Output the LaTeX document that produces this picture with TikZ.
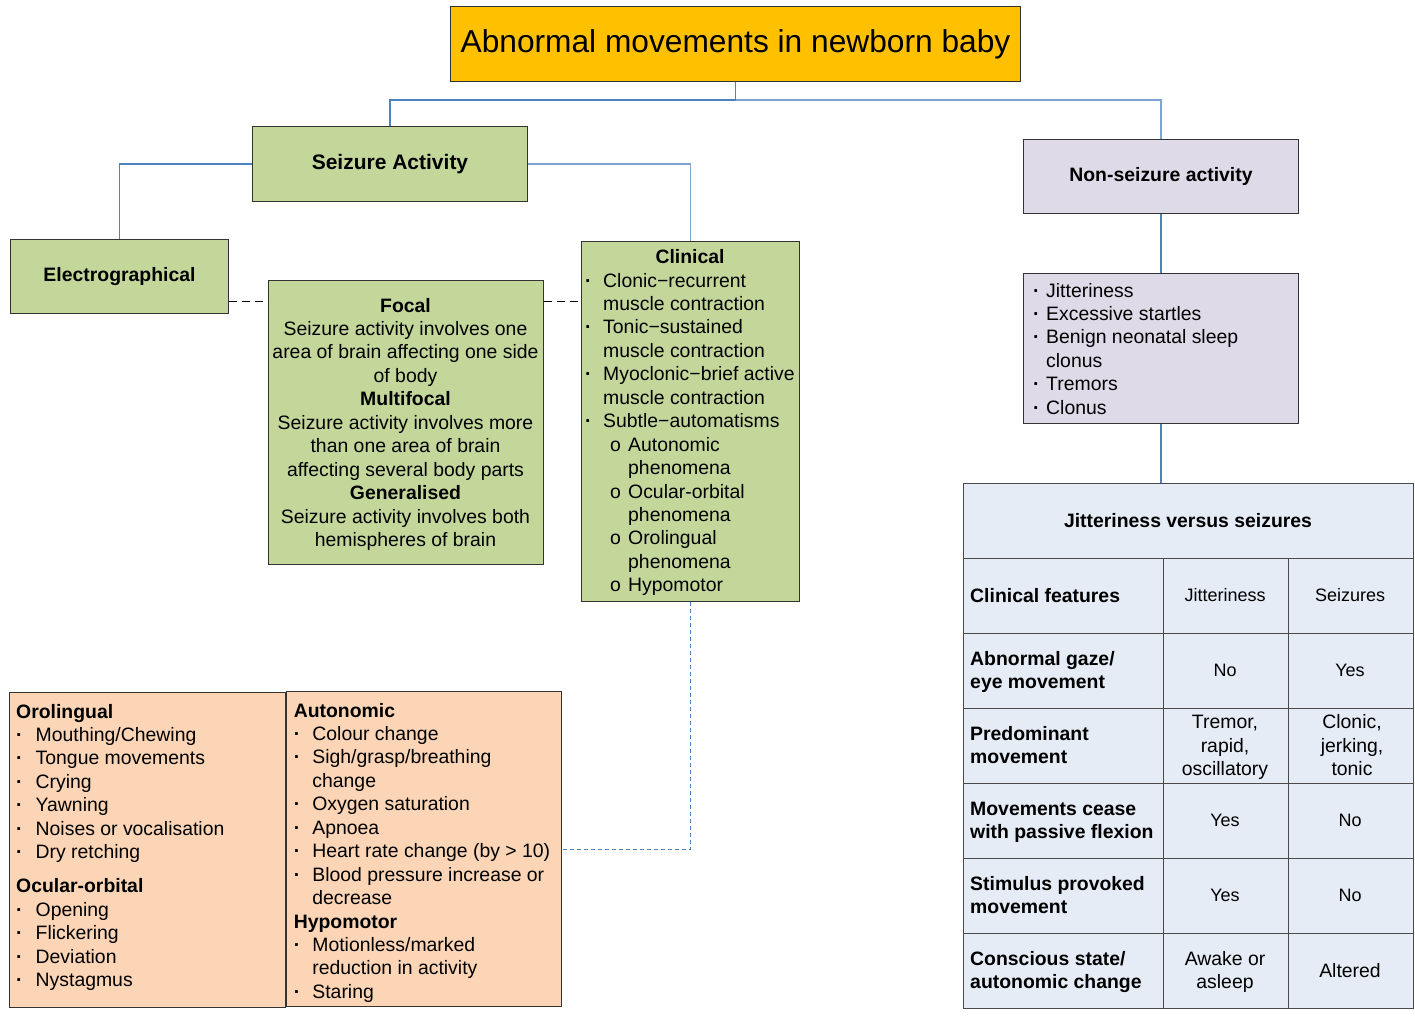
\documentclass[tikz,border=0pt]{standalone}
\usepackage{fontspec}
\setmainfont{Liberation Sans}
\definecolor{titlefill}{HTML}{FFC000}
\definecolor{greenfill}{HTML}{C4D79B}
\definecolor{lavfill}{HTML}{DFDAE7}
\definecolor{peachfill}{HTML}{FBD5B5}
\definecolor{tabfill}{HTML}{E5ECF6}
\definecolor{boxline}{HTML}{333333}
\definecolor{gridline}{HTML}{4A4A4A}
\definecolor{connblue}{HTML}{4F81BD}
\definecolor{connlight}{HTML}{7FA3D3}
\newcommand\fs{\fontsize{19.4}{23.45}\selectfont}
\newcommand\dotb{\textbf{·}}
\newcommand\bulA{\makebox[18pt][l]{\dotb}}
\newcommand\indA{\hspace*{18pt}}
\newcommand\subA{\hspace*{25pt}\makebox[18pt][l]{o}}
\newcommand\subindA{\hspace*{43pt}}
\newcommand\bulB{\makebox[13pt][l]{\dotb}}
\newcommand\indB{\hspace*{13pt}}
\newcommand\bulC{\makebox[19.5pt][l]{\dotb}}
\newcommand\bulD{\makebox[18.6pt][l]{\dotb}}
\newcommand\indD{\hspace*{18.6pt}}
\begin{document}
\begin{tikzpicture}[x=1pt,y=-1pt,
  box/.style={draw=boxline, line width=1pt, inner sep=0pt, anchor=north west},
  txt/.style={inner sep=0pt, font=\fs, align=left},
  celltxt/.style={inner sep=0pt, font=\fs, align=center, yshift=-2.5pt},
  celltxtl/.style={inner sep=0pt, font=\fs\bfseries, align=left, anchor=west, yshift=-2.5pt},
  cellsmall/.style={inner sep=0pt, font=\fontsize{18}{22}\selectfont, yshift=-2.5pt},
  conn/.style={draw=connblue, line width=1.4pt},
  connl/.style={draw=connlight, line width=1.1pt},
  blackdash/.style={draw=black, line width=1.2pt, dash pattern=on 8pt off 5pt},
  bluedash/.style={draw=connblue, line width=0.9pt, dash pattern=on 4pt off 3pt}]
\useasboundingbox (0,0) rectangle (1415,1016);

% boxes
\node[box, fill=titlefill, minimum width=570, minimum height=75, font=\fontsize{31.7}{38}\selectfont] (title) at (450,6) {Abnormal movements in newborn baby};
\node[box, fill=greenfill, minimum width=275, minimum height=75, font=\fontsize{21}{25}\selectfont\bfseries] (seiz) at (252,126) {Seizure Activity};
\node[box, fill=lavfill, minimum width=275, minimum height=74, font=\fs\bfseries] (nons) at (1023,139) {Non-seizure activity};
\node[box, fill=greenfill, minimum width=218, minimum height=74, font=\fs\bfseries] (elec) at (10,239) {Electrographical};
\node[box, fill=greenfill, minimum width=275, minimum height=284] (focal) at (268,280) {};
\node[box, fill=greenfill, minimum width=218, minimum height=360] (clin) at (581,241) {};
\node[box, fill=lavfill, minimum width=275, minimum height=150] (nslist) at (1023,273) {};
\node[box, fill=peachfill, minimum width=276, minimum height=315] (oro) at (9,692) {};
\node[box, fill=peachfill, minimum width=275, minimum height=315] (auto) at (286,691) {};
\node[box, draw=gridline, fill=tabfill, minimum width=450, minimum height=525] (tab) at (963,483) {};

% connectors
\draw[conn] (title.south) -- ++(0,18) -| (seiz.north);
\draw[connl] (title.south) ++(0,18) -| (nons.north);
\draw[conn] (seiz.west) -| (elec.north);
\draw[connl] (seiz.east) -| (clin.north);
\draw[conn] (nons.south) -- (nslist.north);
\draw[conn] (nslist.south) -- (nslist.south |- tab.north);
\coordinate (dashy) at ([yshift=-25pt]elec.east);
\draw[blackdash] (dashy) -- (dashy -| focal.west);
\draw[blackdash] (dashy -| focal.east) -- (dashy -| clin.west);
\draw[bluedash] (clin.south) |- (auto.east);

% focal text
\node[txt, align=center, anchor=north] (focaltxt) at (405.5,295.4) {%
\strut\textbf{Focal}\\
\strut Seizure activity involves one\\
\strut area of brain affecting one side\\
\strut of body\\
\strut\textbf{Multifocal}\\
\strut Seizure activity involves more\\
\strut than one area of brain\\
\strut affecting several body parts\\
\strut\textbf{Generalised}\\
\strut Seizure activity involves both\\
\strut hemispheres of brain};

% clinical text
\node[txt, align=center, anchor=north] (clintitle) at (690,246.4) {\strut\textbf{Clinical}};
\node[txt, anchor=north west] (clintxt) at (585,270.4) {%
\strut\bulA Clonic−recurrent\\
\strut\indA muscle contraction\\
\strut\bulA Tonic−sustained\\
\strut\indA muscle contraction\\
\strut\bulA Myoclonic−brief active\\
\strut\indA muscle contraction\\
\strut\bulA Subtle−automatisms\\
\strut\subA Autonomic\\
\strut\subindA phenomena\\
\strut\subA Ocular-orbital\\
\strut\subindA phenomena\\
\strut\subA Orolingual\\
\strut\subindA phenomena\\
\strut\subA Hypomotor};

% non-seizure list
\node[txt, anchor=north west] (nstxt) at (1033,280.4) {%
\strut\bulB Jitteriness\\
\strut\bulB Excessive startles\\
\strut\bulB Benign neonatal sleep\\
\strut\indB clonus\\
\strut\bulB Tremors\\
\strut\bulB Clonus};

% orolingual
\node[txt, anchor=north west] (orotxt) at (16,701.4) {%
\strut\textbf{Orolingual}\\
\strut\bulC Mouthing/Chewing\\
\strut\bulC Tongue movements\\
\strut\bulC Crying\\
\strut\bulC Yawning\\
\strut\bulC Noises or vocalisation\\
\strut\bulC Dry retching\\[10.5pt]
\strut\textbf{Ocular-orbital}\\
\strut\bulC Opening\\
\strut\bulC Flickering\\
\strut\bulC Deviation\\
\strut\bulC Nystagmus};

% autonomic
\node[txt, anchor=north west] (autotxt) at (293.6,700.4) {%
\strut\textbf{Autonomic}\\
\strut\bulD Colour change\\
\strut\bulD Sigh/grasp/breathing\\
\strut\indD change\\
\strut\bulD Oxygen saturation\\
\strut\bulD Apnoea\\
\strut\bulD Heart rate change (by > 10)\\
\strut\bulD Blood pressure increase or\\
\strut\indD decrease\\
\strut\textbf{Hypomotor}\\
\strut\bulD Motionless/marked\\
\strut\indD reduction in activity\\
\strut\bulD Staring};

% table grid
\foreach \yy in {558,633,708,783,858,933}
  \draw[gridline, line width=1pt] (963,\yy) -- (1413,\yy);
\draw[gridline, line width=1pt] (1163,558) -- (1163,1008);
\draw[gridline, line width=1pt] (1288,558) -- (1288,1008);

% table text
\node[celltxt, font=\fs\bfseries] (thead) at (1188,520) {\strut Jitteriness versus seizures};
\node[celltxtl] (r1a) at (970,595) {\strut Clinical features};
\node[cellsmall] (r1b) at (1225,595) {\strut Jitteriness};
\node[cellsmall] (r1c) at (1350,595) {\strut Seizures};
\node[celltxtl] (r2a) at (970,670) {\strut Abnormal gaze/\\\strut eye movement};
\node[cellsmall] (r2b) at (1225,670) {\strut No};
\node[cellsmall] (r2c) at (1350,670) {\strut Yes};
\node[celltxtl] (r3a) at (970,745) {\strut Predominant\\\strut movement};
\node[celltxt] (r3b) at (1225,745) {\strut Tremor,\\\strut rapid,\\\strut oscillatory};
\node[celltxt] (r3c) at (1352,745) {\strut Clonic,\\\strut jerking,\\\strut tonic};
\node[celltxtl] (r4a) at (970,820) {\strut Movements cease\\\strut with passive flexion};
\node[cellsmall] (r4b) at (1225,820) {\strut Yes};
\node[cellsmall] (r4c) at (1350,820) {\strut No};
\node[celltxtl] (r5a) at (970,895) {\strut Stimulus provoked\\\strut movement};
\node[cellsmall] (r5b) at (1225,895) {\strut Yes};
\node[cellsmall] (r5c) at (1350,895) {\strut No};
\node[celltxtl] (r6a) at (970,970) {\strut Conscious state/\\\strut autonomic change};
\node[celltxt] (r6b) at (1225,970) {\strut Awake or\\\strut asleep};
\node[celltxt] (r6c) at (1350,970) {\strut Altered};
\end{tikzpicture}
\end{document}
